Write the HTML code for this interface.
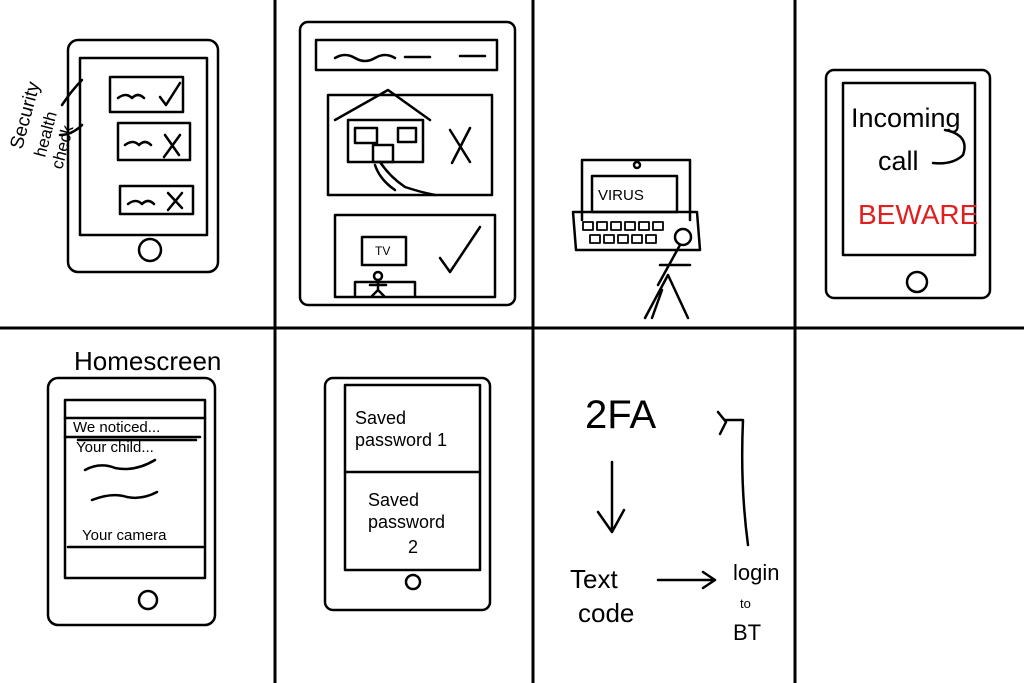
<!DOCTYPE html>
<html><head><meta charset="utf-8"><style>
html,body{margin:0;padding:0;background:#fff;}
svg{display:block}
text{font-family:"Liberation Sans",sans-serif;fill:#000}
</style></head><body>
<svg width="1024" height="683" viewBox="0 0 1024 683" xmlns="http://www.w3.org/2000/svg">
<g stroke="#000" fill="none" stroke-linecap="round" stroke-linejoin="round">
<!-- grid -->
<g stroke-width="3">
<line x1="275" y1="0" x2="275" y2="683"/>
<line x1="533" y1="0" x2="533" y2="683"/>
<line x1="795" y1="0" x2="795" y2="683"/>
<line x1="0" y1="328" x2="1024" y2="328"/>
</g>
<g stroke-width="2.5">
<!-- panel 1 -->
<rect x="68" y="40" width="150" height="232" rx="10"/>
<rect x="80" y="58" width="127" height="177"/>
<rect x="110" y="77" width="73" height="35"/>
<rect x="118" y="123" width="72" height="37"/>
<rect x="120" y="186" width="73" height="28"/>
<circle cx="150" cy="250" r="11"/>
<path d="M118 98 q8 -6 14 0 q6 -6 12 0"/><path d="M160 97 l6 8 l14 -22"/>
<path d="M125 145 q8 -6 14 0 q6 -6 12 0"/><path d="M165 135 l14 20 M180 135 l-16 22"/>
<path d="M128 204 q8 -6 14 0 q6 -6 12 0"/><path d="M168 193 l14 15 M182 193 l-14 17"/>
<path d="M62 105 q10 -15 20 -25"/><path d="M60 135 q12 0 22 -10"/>
<!-- panel 2 -->
<rect x="300" y="22" width="215" height="283" rx="8"/>
<rect x="316" y="40" width="181" height="30"/>
<path d="M335 58 q10 -6 20 0 q10 6 20 0 q10 -6 20 0 M405 57 h25 M460 56 h25"/>
<rect x="328" y="95" width="164" height="100"/>
<path d="M335 120 L388 90 L430 120"/><rect x="348" y="120" width="75" height="42"/>
<rect x="355" y="128" width="22" height="15"/><rect x="398" y="128" width="18" height="14"/><rect x="373" y="145" width="20" height="17"/>
<path d="M380 162 q10 15 25 25 q15 5 30 8 M375 165 q5 15 20 25"/>
<path d="M450 130 l20 32 M470 128 l-18 35"/>
<rect x="335" y="215" width="160" height="82"/>
<rect x="362" y="237" width="44" height="28"/>
<path d="M355 296 v-14 h60 v14"/><circle cx="378" cy="276" r="4"/><path d="M378 280 v10 l-6 6 M378 290 l6 6 M370 285 h16"/>
<path d="M440 258 l10 14 l30 -45"/>
<!-- panel 3 -->
<path d="M582 220 V160 h108 V220"/>
<rect x="592" y="176" width="85" height="36"/>
<circle cx="637" cy="165" r="3"/>
<path d="M573 212 h124 l3 38 h-124 z"/>
<g stroke-width="1.8">
<rect x="583" y="222" width="10" height="8"/><rect x="597" y="222" width="10" height="8"/><rect x="611" y="222" width="10" height="8"/><rect x="625" y="222" width="10" height="8"/><rect x="639" y="222" width="10" height="8"/><rect x="653" y="222" width="10" height="8"/>
<rect x="590" y="235" width="10" height="8"/><rect x="604" y="235" width="10" height="8"/><rect x="618" y="235" width="10" height="8"/><rect x="632" y="235" width="10" height="8"/><rect x="646" y="235" width="10" height="8"/>
</g>
<circle cx="683" cy="237" r="8"/>
<path d="M680 245 L658 285 M660 265 l30 0 M668 275 L645 318 M668 275 L688 318 M662 290 l-10 28"/>
<!-- panel 4 -->
<rect x="826" y="70" width="164" height="228" rx="8"/>
<rect x="843" y="83" width="132" height="172"/>
<circle cx="917" cy="282" r="10"/>
<path d="M945 130 q25 5 18 25 q-10 10 -30 8"/>
<!-- panel 5 -->
<rect x="48" y="378" width="167" height="247" rx="10"/>
<rect x="65" y="400" width="140" height="178"/>
<path d="M65 418 h140 M65 437 h135 M78 440 h118 M68 547 h135"/>
<path d="M85 470 q15 -8 30 -2 q20 4 40 -8 M92 500 q20 -8 35 -3 q15 3 30 -5"/>
<circle cx="148" cy="600" r="9"/>
<!-- panel 6 -->
<rect x="325" y="378" width="165" height="232" rx="8"/>
<rect x="345" y="385" width="135" height="185"/>
<path d="M345 472 h135"/>
<circle cx="413" cy="582" r="7"/>
<!-- panel 7 -->
<path d="M612 462 v70 M598 512 l14 20 l12 -22"/>
<path d="M658 580 h55 M703 572 l12 8 l-12 8"/>
<path d="M748 545 q-8 -60 -5 -125 L725 420 M718 412 l8 10 l-6 12"/>
</g>
</g>
<!-- text -->
<g transform="translate(22,150) rotate(-75)"><text font-size="19">Security</text></g>
<g transform="translate(45,158) rotate(-75)"><text font-size="17">health</text></g>
<g transform="translate(62,170) rotate(-75)"><text font-size="17">check</text></g>
<text x="375" y="255" font-size="12">TV</text>
<text x="598" y="200" font-size="15">VIRUS</text>
<text x="851" y="127" font-size="27">Incoming</text>
<text x="878" y="170" font-size="27">call</text>
<text x="858" y="224" font-size="28" fill="#e02020" style="fill:#e02020">BEWARE</text>
<text x="74" y="370" font-size="26">Homescreen</text>
<text x="73" y="432" font-size="15">We noticed...</text>
<text x="76" y="452" font-size="15">Your child...</text>
<text x="82" y="540" font-size="15">Your camera</text>
<text x="355" y="424" font-size="18">Saved</text>
<text x="355" y="446" font-size="18">password 1</text>
<text x="368" y="506" font-size="18">Saved</text>
<text x="368" y="528" font-size="18">password</text>
<text x="408" y="553" font-size="18">2</text>
<text x="585" y="428" font-size="40">2FA</text>
<text x="570" y="588" font-size="26">Text</text>
<text x="578" y="622" font-size="26">code</text>
<text x="733" y="580" font-size="22">login</text>
<text x="740" y="608" font-size="13">to</text>
<text x="733" y="640" font-size="22">BT</text>
</svg>
</body></html>
